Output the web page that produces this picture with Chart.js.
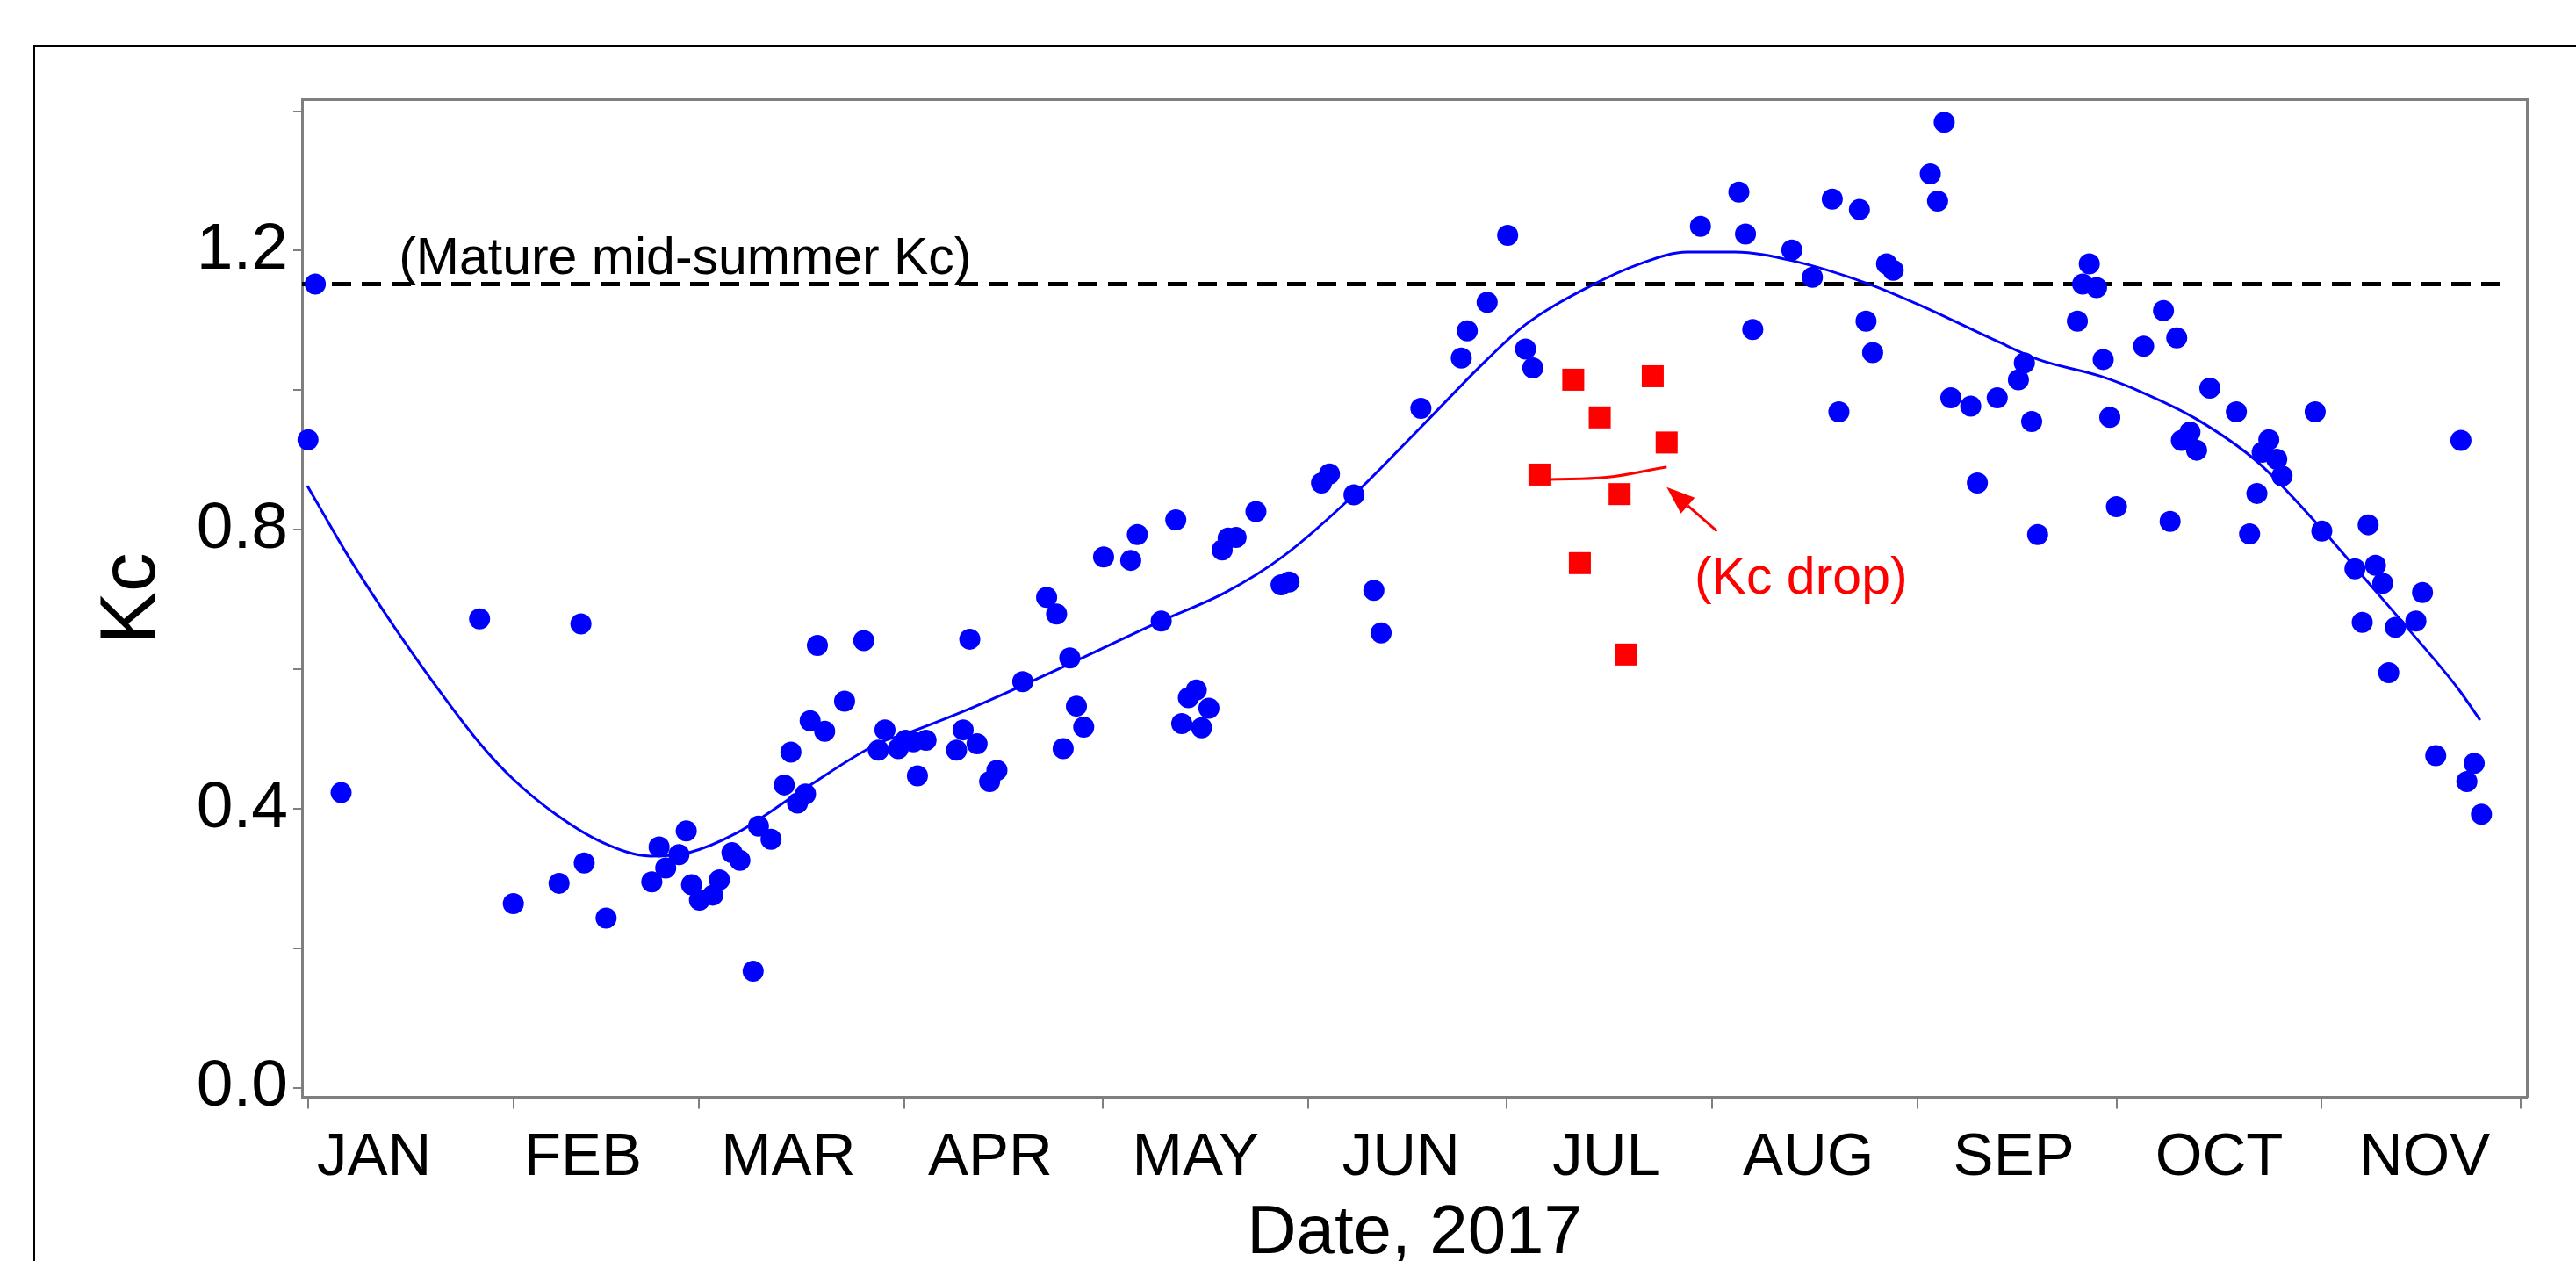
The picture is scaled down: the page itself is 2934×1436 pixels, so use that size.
<!DOCTYPE html>
<html>
<head>
<meta charset="utf-8">
<title>Kc 2017</title>
<script src="https://cdn.jsdelivr.net/npm/chart.js@4.4.1/dist/chart.umd.min.js"></script>
<style>
  html, body { margin: 0; padding: 0; background: #fff; }
  #wrap { position: relative; width: 2934px; height: 1436px; overflow: hidden; }
  #kcChart { position: absolute; left: 0; top: 0; }
  #frame { position: absolute; left: 38px; top: 51px; width: 3000px; height: 1500px;
           border-left: 2px solid #000; border-top: 2px solid #000; pointer-events: none; }
</style>
</head>
<body>
<div id="wrap">
  <canvas id="kcChart" width="2934" height="1436"></canvas>
  <div id="frame"></div>
</div>
<script>
// Day of year (0 = Jan 1) and measured Kc
const kcDays = [0, 1.1, 5, 25.9, 31, 37.9, 41.2, 41.7, 45, 51.9, 53, 54, 56, 57.1, 57.9, 59.1, 61.1, 62.1, 64, 65.2,
  67.2, 68, 69.9, 71.9, 72.9, 73.9, 75.1, 75.8, 76.9, 78, 81, 83.9, 86.1, 87.1, 89.1, 90.2, 91.4, 92, 93.3, 97.9,
  98.9, 99.9, 101, 102.9, 104, 107.9, 111.5, 113, 114, 115, 116, 117.1, 120.1, 124.2, 125.2, 128.8, 131, 131.9, 132.9, 134.1,
  134.9, 136, 138, 138.9, 140.1, 143.1, 146.9, 148.1, 153, 154.2, 157.9, 160.9, 162, 168, 174.1, 175, 178, 181.1, 183.8, 184.9,
  210.2, 216, 217, 218.1, 224, 227.1, 230.1, 231.1, 234.2, 235.2, 236.2, 238.3, 239.3, 244.9, 246, 247, 248, 251, 252, 255,
  258.2, 259.1, 260.2, 261.1, 267.1, 267.9, 268.9, 270, 271, 272, 273, 277.1, 280.1, 281.1, 282.1, 282.8, 284.1, 285.1, 287.1, 291.1,
  293.1, 294.2, 295, 296, 297.2, 298, 303, 304, 309, 310.1, 311, 312.1, 313.2, 314.1, 315.1, 318.2, 319.2, 321.2, 325, 325.9,
  327, 328.1];
const kcValues = [0.929, 1.152, 0.423, 0.672, 0.264, 0.293, 0.665, 0.322, 0.243, 0.295, 0.345, 0.315, 0.334, 0.368, 0.291, 0.269, 0.276, 0.298, 0.337, 0.326,
  0.167, 0.375, 0.356, 0.434, 0.481, 0.408, 0.421, 0.526, 0.634, 0.511, 0.554, 0.641, 0.484, 0.513, 0.486, 0.498, 0.496, 0.447, 0.498, 0.484,
  0.513, 0.643, 0.493, 0.439, 0.455, 0.582, 0.703, 0.679, 0.486, 0.616, 0.547, 0.517, 0.761, 0.756, 0.793, 0.669, 0.814, 0.522, 0.559, 0.570,
  0.516, 0.544, 0.771, 0.788, 0.789, 0.826, 0.721, 0.725, 0.867, 0.880, 0.850, 0.713, 0.652, 0.974, 1.046, 1.085, 1.126, 1.222, 1.059, 1.032,
  1.235, 1.284, 1.224, 1.087, 1.201, 1.162, 1.274, 0.969, 1.259, 1.099, 1.054, 1.181, 1.172, 1.310, 1.271, 1.384, 0.989, 0.977, 0.867, 0.989,
  1.015, 1.039, 0.955, 0.793, 1.099, 1.152, 1.181, 1.147, 1.044, 0.961, 0.833, 1.063, 1.114, 0.812, 1.075, 0.928, 0.940, 0.914, 1.003, 0.969,
  0.794, 0.852, 0.911, 0.929, 0.901, 0.877, 0.969, 0.798, 0.744, 0.667, 0.807, 0.749, 0.723, 0.595, 0.660, 0.669, 0.710, 0.476, 0.928, 0.439,
  0.465, 0.392];

// smoothed Kc trend
const fitDays = [-0.1, 5.75, 11.5, 18, 25.9, 30.9, 37.4, 44.6, 51.7, 57.5, 64.7, 74.7, 86.2, 91.3, 100.6, 111.2, 128.8, 138.5, 147.1, 157.9,
  168, 178, 183.8, 193.1, 201, 208.2, 215.4, 223.9, 235.4, 244, 254.8, 261.2, 270.6, 277.1, 285, 294.3, 303.6, 310.1, 317.3, 324.5, 327.9];
const fitValues = [0.863, 0.767, 0.682, 0.593, 0.494, 0.443, 0.392, 0.351, 0.332, 0.337, 0.365, 0.427, 0.494, 0.511, 0.546, 0.591, 0.669, 0.710, 0.761, 0.850,
  0.947, 1.044, 1.094, 1.147, 1.181, 1.198, 1.198, 1.186, 1.153, 1.119, 1.071, 1.044, 1.020, 0.996, 0.959, 0.897, 0.805, 0.734, 0.655, 0.573, 0.527];

// July Kc drop
const dropDays = [185.9, 191, 192, 195, 198, 199, 203, 205.1];
const dropValues = [0.879, 1.015, 0.752, 0.961, 0.851, 0.621, 1.020, 0.925];
const dropFitDays = [187.4, 196, 205.1];
const dropFitValues = [0.872, 0.875, 0.890];

const matureKc = 1.152;
const matureLineDays = [-0.9, 331.8];

const monthStartDays = [0, 31, 59, 90, 120, 151, 181, 212, 243, 273, 304, 334];
const monthLabels = ['JAN', 'FEB', 'MAR', 'APR', 'MAY', 'JUN', 'JUL', 'AUG', 'SEP', 'OCT', 'NOV'];
const monthLabelDays = [10, 41.5, 72.5, 103, 134, 165, 196, 226.5, 257.5, 288.5, 319.5];
const yTickValues = [0, 0.2, 0.4, 0.6, 0.8, 1.0, 1.2, 1.4];
const yLabelValues = [0, 0.4, 0.8, 1.2];

const FONT = '"Liberation Sans", Arial, sans-serif';
const AXIS_GREY = '#7f7f7f';

const toXY = (xs, ys) => xs.map((x, i) => ({ x: x, y: ys[i] }));

// text + arrow annotations
const annotations = {
  id: 'kcAnnotations',
  afterDatasetsDraw(chart) {
    const { ctx, scales: { x, y } } = chart;
    ctx.save();
    ctx.font = '59px ' + FONT;
    ctx.textBaseline = 'alphabetic';
    ctx.fillStyle = '#000';
    ctx.fillText('(Mature mid-summer Kc)', x.getPixelForValue(13.7), y.getPixelForValue(1.167));
    ctx.fillStyle = '#ff0000';
    ctx.fillText('(Kc drop)', x.getPixelForValue(209.3), y.getPixelForValue(0.708));

    const x0 = x.getPixelForValue(212.7), y0 = y.getPixelForValue(0.798);
    const x1 = x.getPixelForValue(205.1), y1 = y.getPixelForValue(0.861);
    const a = Math.atan2(y1 - y0, x1 - x0);
    const len = 32, half = 12;
    const bx = x1 - len * Math.cos(a), by = y1 - len * Math.sin(a);
    ctx.strokeStyle = '#ff0000';
    ctx.lineWidth = 3;
    ctx.beginPath();
    ctx.moveTo(x0, y0);
    ctx.lineTo(bx, by);
    ctx.stroke();
    ctx.beginPath();
    ctx.moveTo(x1, y1);
    ctx.lineTo(bx + half * Math.sin(a), by - half * Math.cos(a));
    ctx.lineTo(bx - half * Math.sin(a), by + half * Math.cos(a));
    ctx.closePath();
    ctx.fill();
    ctx.restore();
  }
};

const ctx = document.getElementById('kcChart').getContext('2d');
const kcChart = new Chart(ctx, {
  type: 'scatter',
  data: {
    datasets: [{
      label: 'Kc drop',
      data: toXY(dropDays, dropValues),
      pointStyle: 'rect',
      pointRadius: 17.7,
      backgroundColor: '#ff0000',
      borderWidth: 0,
      clip: false
    }, {
      label: 'Kc drop trend',
      data: toXY(dropFitDays, dropFitValues),
      showLine: true,
      borderColor: '#ff0000',
      borderWidth: 3,
      pointRadius: 0,
      tension: 0.4
    }, {
      label: 'Kc',
      data: toXY(kcDays, kcValues),
      pointStyle: 'circle',
      pointRadius: 12,
      backgroundColor: '#0000ff',
      borderWidth: 0,
      clip: false
    }, {
      label: 'Kc trend',
      data: toXY(fitDays, fitValues),
      showLine: true,
      borderColor: '#0000ff',
      borderWidth: 3,
      pointRadius: 0,
      cubicInterpolationMode: 'monotone'
    }, {
      label: 'Mature mid-summer Kc',
      data: matureLineDays.map(d => ({ x: d, y: matureKc })),
      showLine: true,
      borderColor: '#000',
      borderWidth: 5,
      borderDash: [22, 12],
      pointRadius: 0
    }]
  },
  options: {
    responsive: false,
    animation: false,
    events: [],
    devicePixelRatio: 1,
    layout: { padding: { left: 0, top: 113.6, right: 56, bottom: 0 } },
    plugins: { legend: { display: false }, tooltip: { enabled: false } },
    scales: {
      x: {
        type: 'linear',
        position: 'bottom',
        min: -0.9,
        max: 334.95,
        afterBuildTicks: (axis) => {
          axis.ticks = monthStartDays.concat(monthLabelDays).sort((a, b) => a - b).map(v => ({ value: v }));
        },
        afterFit: (axis) => { axis.height = 186.6; },
        ticks: {
          autoSkip: false,
          maxRotation: 0,
          minRotation: 0,
          padding: 15,
          color: '#000',
          font: { family: FONT, size: 69 },
          callback: (value) => {
            const i = monthLabelDays.indexOf(value);
            return i >= 0 ? monthLabels[i] : '';
          }
        },
        grid: {
          drawOnChartArea: false,
          tickLength: 13,
          lineWidth: 2,
          tickWidth: 2,
          tickColor: (c) => (c.tick && monthLabelDays.includes(c.tick.value)) ? 'rgba(0,0,0,0)' : AXIS_GREY
        },
        border: { display: true, color: AXIS_GREY, width: 3 },
        title: {
          display: true,
          text: 'Date, 2017',
          color: '#000',
          font: { family: FONT, size: 78, lineHeight: 0.6 },
          padding: { top: 0, bottom: 7.6 }
        }
      },
      y: {
        type: 'linear',
        position: 'left',
        min: -0.0136,
        max: 1.4164,
        afterBuildTicks: (axis) => { axis.ticks = yTickValues.map(v => ({ value: v })); },
        afterFit: (axis) => { axis.width = 344; },
        ticks: {
          padding: 6,
          color: '#000',
          font: { family: FONT, size: 75 },
          callback: (value) => yLabelValues.some(v => Math.abs(v - value) < 1e-6) ? value.toFixed(1) : ''
        },
        grid: { drawOnChartArea: false, tickLength: 10, lineWidth: 2, tickWidth: 2, tickColor: AXIS_GREY },
        border: { display: true, color: AXIS_GREY, width: 3 },
        title: {
          display: true,
          text: 'Kc',
          color: '#000',
          font: { family: FONT, size: 89 },
          padding: { top: 98, bottom: 0 }
        }
      },
      xTop: {
        type: 'linear',
        position: 'top',
        ticks: { display: false },
        grid: { display: false, drawTicks: false },
        border: { display: true, color: AXIS_GREY, width: 3 },
        afterFit: (axis) => { axis.height = 0; }
      },
      yRight: {
        type: 'linear',
        position: 'right',
        ticks: { display: false },
        grid: { display: false, drawTicks: false },
        border: { display: true, color: AXIS_GREY, width: 3 },
        afterFit: (axis) => { axis.width = 0; }
      }
    }
  },
  plugins: [annotations]
});
</script>
</body>
</html>
